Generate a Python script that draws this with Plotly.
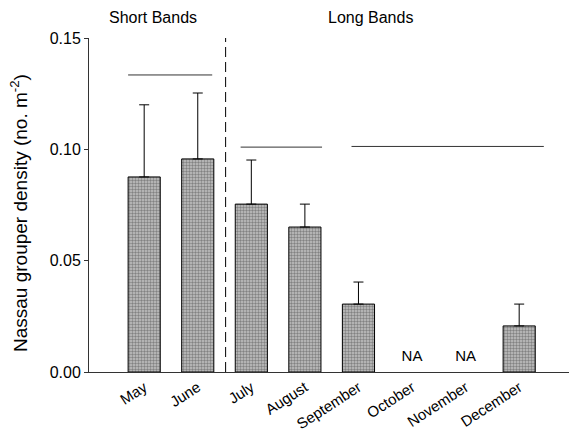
import plotly.graph_objects as go

months = ["May", "June", "July", "August", "September", "October", "November", "December"]
density = [0.0876, 0.0957, 0.0754, 0.0651, 0.0305, None, None, 0.0207]
err_plus = [0.0324, 0.0296, 0.0198, 0.0103, 0.0099, None, None, 0.0098]
na_months = ["October", "November"]
na_y = [0.0068, 0.0068]
# significance lines: (x0 category pos, x1 category pos, y)
sig_x0 = [-0.30, 1.80, 3.87]
sig_x1 = [1.27, 3.32, 7.46]
sig_y = [0.1334, 0.1010, 0.1013]
headers = ["Short Bands", "Long Bands"]
header_x = [0.17, 4.23]
divider_x = 1.52
y_title = "Nassau grouper density (no. m<sup>-2</sup>)"

FONT = "Liberation Sans, Arial, sans-serif"
xpos = list(range(len(months)))
fig = go.Figure()
fig.add_trace(go.Bar(
    x=xpos, y=density, width=0.6,
    marker=dict(color="#a8a8a8", line=dict(color="black", width=1),
                pattern=dict(shape=".", fgcolor="#404040", bgcolor="#c4c4c4", size=3, solidity=0.5)),
    error_y=dict(type="data", symmetric=False, array=err_plus, arrayminus=[0]*len(months),
                 color="black", thickness=1, width=5),
    showlegend=False,
))
fig.add_trace(go.Scatter(
    x=[months.index(m) for m in na_months], y=na_y, mode="text", text=["NA"]*len(na_months),
    textfont=dict(size=15, color="black", family=FONT), showlegend=False,
))
for x0, x1, y in zip(sig_x0, sig_x1, sig_y):
    fig.add_shape(type="line", x0=x0, x1=x1, y0=y, y1=y, xref="x", yref="y",
                  line=dict(color="#333333", width=1))
fig.add_shape(type="line", x0=divider_x, x1=divider_x, y0=0, y1=0.15, xref="x", yref="y",
              line=dict(color="black", width=1, dash="10px,5px"))
for h, hx in zip(headers, header_x):
    fig.add_annotation(x=hx, y=1, xref="x", yref="paper", text=h, showarrow=False,
                       yanchor="middle", yshift=21, font=dict(size=16, color="black", family=FONT))
fig.add_annotation(x=0, y=0.5, xref="paper", yref="paper", text=y_title, showarrow=False,
                   textangle=-90, xanchor="center", yanchor="middle", xshift=-70, yshift=-8,
                   font=dict(size=19, color="black", family=FONT))

fig.update_layout(
    width=571, height=433,
    margin=dict(l=89, r=2, t=38, b=61),
    plot_bgcolor="white", paper_bgcolor="white",
    font=dict(family=FONT, color="black"),
    xaxis=dict(range=[-1.03, 7.93], tickmode="array", tickvals=xpos, ticktext=months,
               tickangle=-33, showline=True, linecolor="#333333", linewidth=1,
               showgrid=False, zeroline=False, ticks="", tickfont=dict(size=15)),
    yaxis=dict(range=[0, 0.15], tickvals=[0, 0.05, 0.10, 0.15], tickformat=".2f",
               showline=True, linecolor="#333333", linewidth=1, showgrid=False,
               zeroline=False, ticks="outside", ticklen=4, tickcolor="#333333",
               tickfont=dict(size=16)),
)
fig.write_html("out.html")
